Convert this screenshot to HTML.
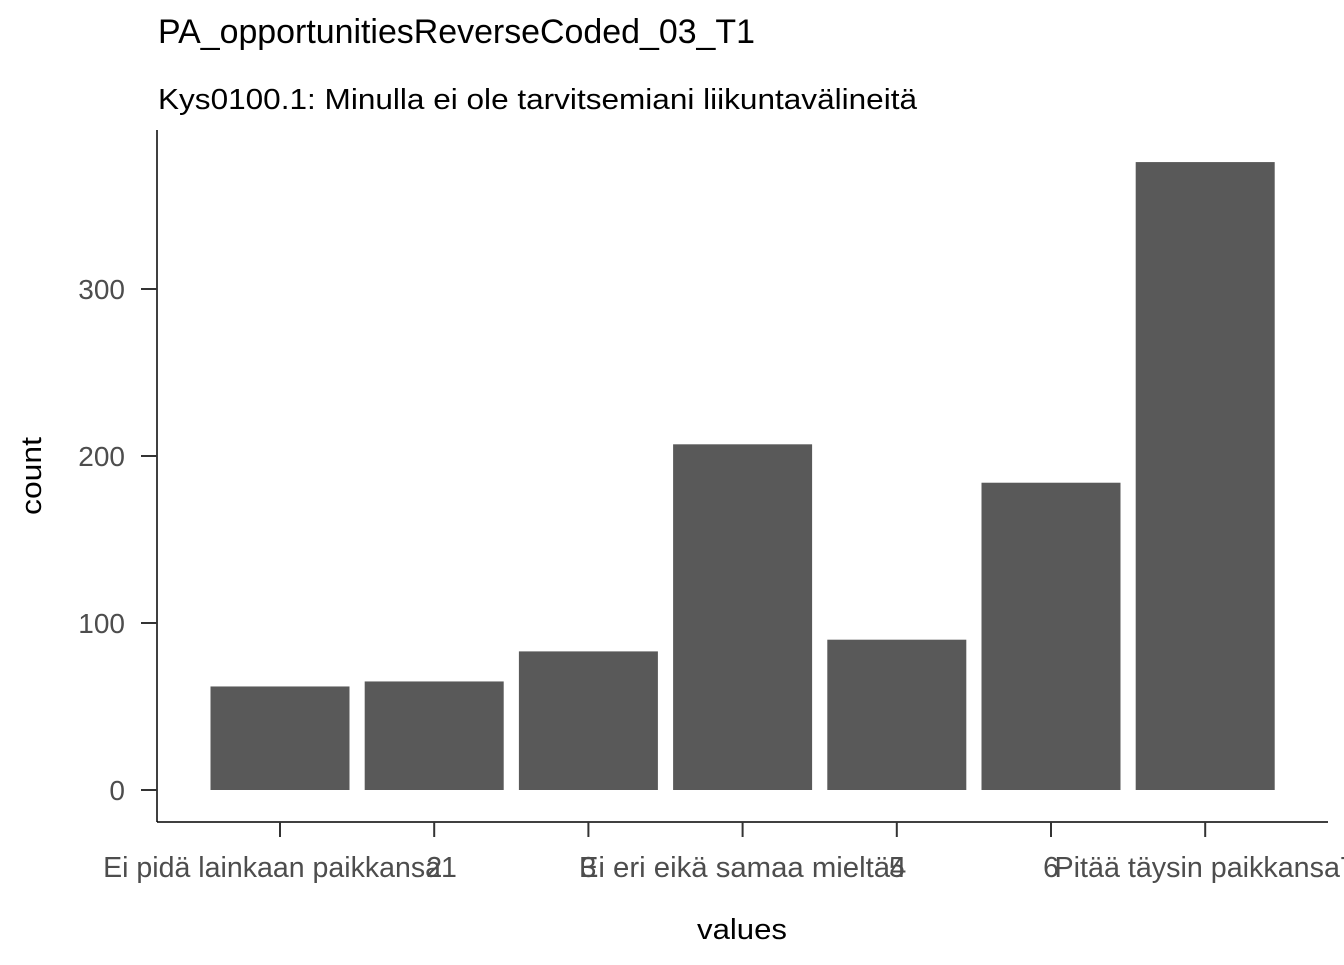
<!DOCTYPE html>
<html><head><meta charset="utf-8"><style>
body{margin:0;background:#fff}
svg text{font-family:"Liberation Sans",Arial,sans-serif}
</style></head><body>
<svg width="1344" height="960" xmlns="http://www.w3.org/2000/svg">
<text x="158" y="43" font-size="34" textLength="597" lengthAdjust="spacingAndGlyphs" fill="#000">PA_opportunitiesReverseCoded_03_T1</text>
<text x="158" y="109" font-size="29" textLength="759" lengthAdjust="spacingAndGlyphs" fill="#000">Kys0100.1: Minulla ei ole tarvitsemiani liikuntavälineitä</text>
<g id="bars"></g>
<g id="axes"></g>
<text x="742" y="939" font-size="29" textLength="90" lengthAdjust="spacingAndGlyphs" text-anchor="middle" fill="#000">values</text>
<text transform="translate(41,476) rotate(-90)" font-size="29" textLength="78" lengthAdjust="spacingAndGlyphs" text-anchor="middle" fill="#000">count</text>
</svg>
<script>
const categories=["Ei pidä lainkaan paikkansa1","2","3","Ei eri eikä samaa mieltä4","5","6","Pitää täysin paikkansa7"];
const counts=[62,65,83,207,90,184,376];
const yTicks=[0,100,200,300];
const NS="http://www.w3.org/2000/svg";
const y0=790, pxPer=1.67, x1=280, step=154.2, bw=139;
const yS=v=>y0-v*pxPer, xS=i=>x1+i*step;
const bars=document.getElementById('bars'), axes=document.getElementById('axes');
function mk(tag,attrs,parent){const e=document.createElementNS(NS,tag);for(const k in attrs)e.setAttribute(k,attrs[k]);parent.appendChild(e);return e;}
counts.forEach((v,i)=>{
 const r=mk('rect',{x:xS(i)-bw/2,y:yS(v),width:bw,height:v*pxPer,fill:'#595959'},bars);
 
 
});
const ya=mk('line',{x1:157,y1:130,x2:157,y2:822,stroke:'#000','stroke-width':1.5},axes);


const xa=mk('line',{x1:157,y1:822,x2:1328,y2:822,stroke:'#000','stroke-width':1.5},axes);


yTicks.forEach(t=>{
 mk('line',{x1:141,x2:157,y1:yS(t),y2:yS(t),stroke:'#333','stroke-width':2},axes);
 const tx=mk('text',{x:125,y:yS(t)+10,'font-size':28,'text-anchor':'end',fill:'#4d4d4d'},axes);
 tx.textContent=t;
 
 
});
categories.forEach((c,i)=>{
 mk('line',{x1:xS(i),x2:xS(i),y1:822,y2:837,stroke:'#333','stroke-width':2},axes);
 const at={x:xS(i),y:877,'font-size':28.5,'text-anchor':'middle',fill:'#4d4d4d'};
 if(c.length>1){at.textLength=c.length*13.1;at.lengthAdjust='spacingAndGlyphs';}
 const tx=mk('text',at,axes);
 tx.textContent=c;
 
 
});
</script>
</body></html>
